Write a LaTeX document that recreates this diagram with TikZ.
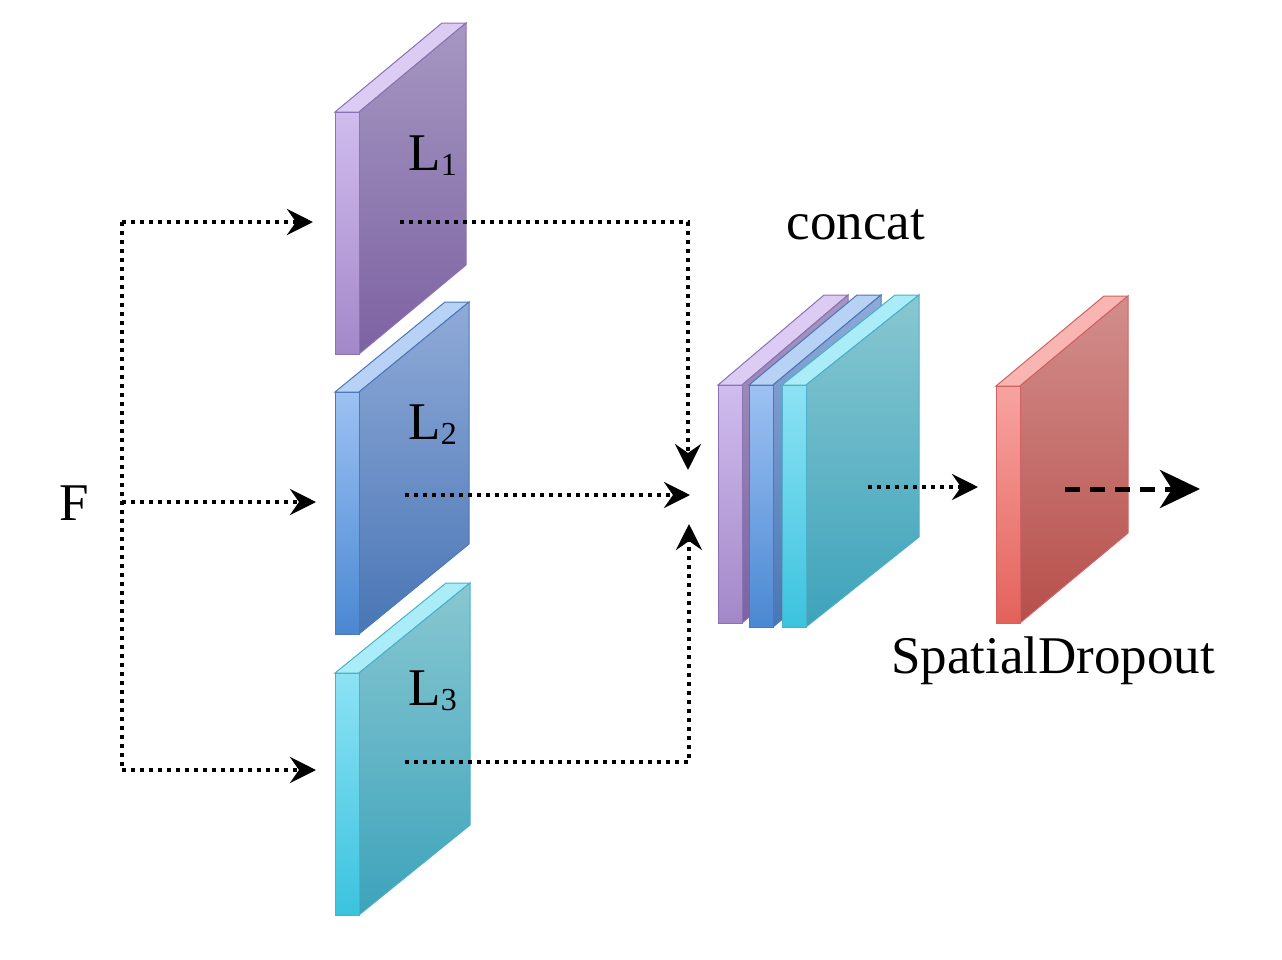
\documentclass[tikz,border=0pt]{standalone}
\usepackage{fontspec}
\setmainfont{Liberation Serif}
\usetikzlibrary{arrows.meta}
% purple
\definecolor{pft}{HTML}{A597C2}\definecolor{pfb}{HTML}{7D62A2}
\definecolor{pst}{HTML}{D0BCEE}\definecolor{psb}{HTML}{A388C8}
\definecolor{ptp}{HTML}{DCCBF3}\definecolor{po}{HTML}{8B72B2}
% blue
\definecolor{bft}{HTML}{90AAD8}\definecolor{bfb}{HTML}{4976B5}
\definecolor{bst}{HTML}{9DC1F3}\definecolor{bsb}{HTML}{4A88D2}
\definecolor{btp}{HTML}{B8D2F6}\definecolor{bo}{HTML}{4A78B8}
% cyan
\definecolor{cft}{HTML}{88C7D1}\definecolor{cfb}{HTML}{3DA3BB}
\definecolor{cst}{HTML}{8DE2F4}\definecolor{csb}{HTML}{3BC3DE}
\definecolor{ctp}{HTML}{AAEDF8}\definecolor{co}{HTML}{4BB0C8}
% red
\definecolor{rft}{HTML}{D28E8C}\definecolor{rfb}{HTML}{B74F4B}
\definecolor{rst}{HTML}{F8A3A0}\definecolor{rsb}{HTML}{E3625B}
\definecolor{rtp}{HTML}{F9B5B1}\definecolor{ro}{HTML}{D06262}
% slab: x0, y0, height, dx, dy, colour prefix
\newcommand\myslab[6]{%
  \fill[#6tp, draw=#6o, line width=0.5pt] (#1,#2) -- ++(#4,#5) -- ++(24,0) -- ({#1+24},#2) -- cycle;
  \shade[top color=#6ft, bottom color=#6fb, draw=#6o, line width=0.5pt] ({#1+24},#2) -- ++(#4,#5) -- ++(0,#3) -- ({#1+24},{#2+#3}) -- cycle;
  \shade[top color=#6st, bottom color=#6sb, draw=#6o, line width=0.5pt] (#1,#2) rectangle ({#1+24},{#2+#3});
}
\newcommand\Lsub[1]{L\raisebox{-2.5pt}{\fontsize{16}{16}\selectfont #1}}
\tikzset{
  txt/.style={font=\fontsize{26.5}{30}\selectfont, inner sep=0pt},
  dotarrow/.style={line width=2pt, dash pattern=on 2pt off 2.5pt},
  tip/.style={-{Stealth[length=13pt,width=13pt,inset=4.5pt]}},
  bigdash/.style={line width=2.5pt, dash pattern=on 7.5pt off 5pt,
    -{Stealth[length=20pt,width=19pt,inset=6pt]}}
}
\begin{document}
\begin{tikzpicture}[x=0.5pt,y=-0.5pt]
\useasboundingbox[fill=white] (0,0) rectangle (1282,960);
% slabs
\myslab{335}{112}{242}{107}{-89}{p}
\myslab{335}{392}{242}{110}{-90}{b}
\myslab{335}{673}{242}{111}{-90}{c}
\myslab{718}{385}{238}{106}{-90}{p}
\myslab{749}{385}{242}{108}{-90}{b}
\myslab{782}{385}{242}{113}{-90}{c}
\myslab{996}{386}{237}{108}{-90}{r}
% texts
\node[txt, anchor=base] (F) at (74,520) {F};
\node[txt, anchor=base west] (l1) at (408,170) {\Lsub{1}};
\node[txt, anchor=base west] (l2) at (408,439) {\Lsub{2}};
\node[txt, anchor=base west] (l3) at (408,705) {\Lsub{3}};
\node[txt, anchor=base] (concat) at (856,239) {concat};
\node[txt, anchor=base] (sd) at (1053,673) {SpatialDropout};
% coordinates
\coordinate (a1) at (122,222);
\coordinate (a2) at (122,502);
\coordinate (a3) at (122,770);
\coordinate (in1) at (313,222);
\coordinate (in2) at (316,502);
\coordinate (in3) at (316,770);
\coordinate (o1) at (400,222);
\coordinate (c1) at (688,222);
\coordinate (t1) at (688,470);
\coordinate (o2) at (405,495);
\coordinate (t2) at (690,495);
\coordinate (o3) at (405,762);
\coordinate (c3) at (689,762);
\coordinate (t3) at (689,524);
\coordinate (o4) at (868,487);
\coordinate (t4) at (978,487);
\coordinate (o5) at (1065,489);
\coordinate (t5) at (1200,489);
% connectors
\draw[dotarrow] (a1) -- (a3);
\draw[dotarrow, tip] (a1) -- (in1);
\draw[dotarrow, tip] (a2) -- (in2);
\draw[dotarrow, tip] (a3) -- (in3);
\draw[dotarrow, tip] (o1) -- (c1) -- (t1);
\draw[dotarrow, tip] (o2) -- (t2);
\draw[dotarrow, tip] (o3) -- (c3) -- (t3);
\draw[dotarrow, tip] (o4) -- (t4);
\draw[bigdash] (o5) -- (t5);
\end{tikzpicture}
\end{document}
